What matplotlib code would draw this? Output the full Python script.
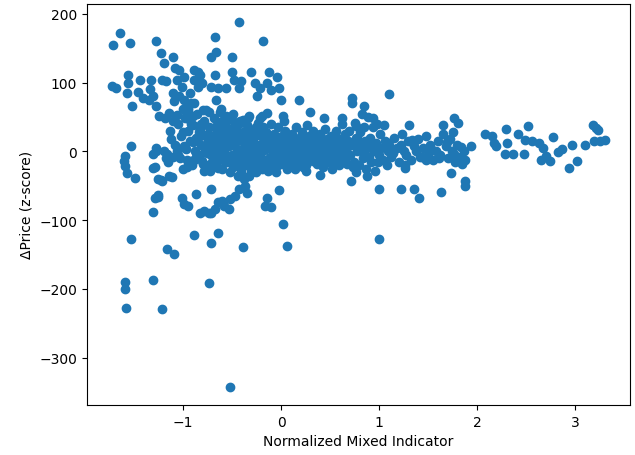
import matplotlib
matplotlib.use("Agg")
import matplotlib.pyplot as plt
import numpy as np

# Upper scattered points (x, y)
upper_x = [-1.72, -1.64, -1.54, -1.73, -1.69, -1.56, -1.56, -1.57, -1.52, -1.44, -1.46, -1.41,
           -1.28, -1.23, -1.20, -1.33, -1.34, -1.35, -1.31, -1.28, -1.22, -1.18, -1.25, -1.19,
           -1.10, -1.08, -1.04, -1.06, -0.99, -1.01, -1.10, -1.04, -1.09, -0.99, -1.14, -1.06,
           -0.97, -0.89, -0.85, -0.83, -0.89, -0.85, -0.93, -0.89, -0.95, -0.93, -0.81, -0.68,
           -0.66, -0.72, -0.68, -0.72, -0.64, -0.66, -0.77, -0.62, -0.56, -0.50, -0.43, -0.50,
           -0.48, -0.41, -0.43, -0.56, -0.50, -0.39, -0.31, -0.27, -0.22, -0.25, -0.14, -0.10,
           -0.18, -0.12, -0.04, -0.02, 0.00, -0.14, -0.22, -0.33, 0.02, 0.18, 0.30, 0.44,
           0.62, 0.72, 0.72, 0.85, 1.10, 0.77, 0.94, 1.31, 1.23, 1.34, 1.65, 1.77, 1.81, 1.76,
           -1.13, -1.10, -1.05, -0.98, -0.95, -1.00, -0.92]
upper_y = [155, 172, 158, 95, 92, 111, 99, 85, 66, 104, 87, 78,
           160, 143, 129, 104, 91, 75, 80, 66, 104, 102, 51, 49,
           138, 121, 118, 104, 109, 94, 85, 80, 73, 75, 56, 53,
           51, 119, 116, 111, 104, 94, 85, 70, 63, 46, 99, 167,
           145, 138, 111, 94, 92, 75, 61, 58, 92, 138, 188, 116,
           104, 102, 92, 51, 46, 46, 116, 99, 92, 80, 99, 90,
           160, 116, 109, 92, 75, 56, 49, 51, 51, 75, 58, 49,
           49, 78, 70, 66, 83, 37, 49, 39, 25, 17, 39, 49, 41, 29,
           30, 45, 40, 48, 60, 62, 70]

# Right tail points
right_x = [1.94, 2.08, 2.15, 2.17, 2.19, 2.30, 2.31, 2.29, 2.37, 2.42, 2.49, 2.52, 2.48,
           2.56, 2.63, 2.67, 2.65, 2.71, 2.75, 2.78, 2.83, 2.87, 2.94, 2.97, 3.02, 3.10,
           3.18, 3.22, 3.24, 3.20, 3.31, 3.26]
right_y = [8, 26, 22, 13, 8, 32, 13, -4, -4, 25, 17, 37, -4,
           15, 13, 5, -12, -7, -14, 21, -1, 3, -24, 10, -14, 9,
           39, 34, 31, 15, 17, 15]

# Lower scattered points
lower_x = [-1.53, -1.59, -1.60, -1.59, -1.57, -1.49, -1.53, -1.59, -1.59, -1.58, -1.31, -1.22,
           -1.16, -1.09, -1.31, -1.29, -1.26, -1.26, -1.22, -1.31, -1.31, -1.28, -1.20, -1.14,
           -1.01, -0.99, -0.95, -0.87, -0.83, -0.79, -0.74, -0.72, -0.68, -0.64, -0.60, -0.58,
           -0.53, -0.52, -0.47, -0.43, -0.37, -0.35, -0.72, -0.89, -0.72, -0.64, -0.74, -0.39,
           -0.52, -0.14, -0.16, -0.10, -0.02, 0.02, 0.06, 0.25, 0.40, 0.52, 0.71, 0.88,
           1.00, 1.00, 1.22, 1.36, 1.41, 1.63, 1.73, 1.88, 1.88, 1.27, 1.48,
           -1.28, -1.16, -1.29, -1.23, -1.11, -1.26]
lower_y = [8, -7, -14, -21, -31, -38, -127, -190, -200, -228, -187, -229,
           -142, -149, -88, -67, -64, -40, -43, -24, -4, 5, 0, -36,
           -68, -77, -79, -62, -89, -86, -89, -89, -84, -74, -72, -79,
           -83, -69, -65, -55, -50, -60, -55, -122, -133, -118, -192, -139,
           -342, -67, -79, -81, -56, -106, -138, -28, -34, -26, -43, -36,
           -55, -127, -55, -55, -68, -59, -32, -43, -50, -24, -12,
           1, -3, -23, -42, -37, -66]

# Dense central band
band_x = [-1.12, -1.08, -1.05, -1.02, -0.98, -0.96, -0.95, -0.93, -0.91, -0.90, -1.00, -1.10, -1.15, -1.18, -1.06,
          -0.88, -0.87, -0.85, -0.84, -0.82, -0.80, -0.79, -0.78, -0.76, -0.75, -0.74, -0.72, -0.71, -0.70, -0.86, -0.80, -0.77, -0.73, -0.89,
          -0.68, -0.67, -0.66, -0.64, -0.63, -0.62, -0.60, -0.59, -0.58, -0.56, -0.55, -0.54, -0.53, -0.52, -0.51, -0.50, -0.69, -0.61, -0.57, -0.65,
          -0.48, -0.47, -0.46, -0.45, -0.44, -0.43, -0.42, -0.41, -0.40, -0.39, -0.38, -0.37, -0.36, -0.35, -0.34, -0.33, -0.32, -0.31, -0.30, -0.49, -0.44, -0.38, -0.33, -0.30,
          -0.29, -0.28, -0.27, -0.26, -0.25, -0.24, -0.23, -0.22, -0.21, -0.20, -0.19, -0.18, -0.17, -0.16, -0.15, -0.14, -0.13, -0.12, -0.11, -0.10, -0.26, -0.20, -0.13,
          -0.09, -0.08, -0.07, -0.06, -0.05, -0.04, -0.03, -0.02, -0.01, 0.00, 0.01, 0.02, 0.03, 0.04, 0.05, 0.06, 0.07, 0.08, 0.09, 0.10, 0.03, -0.05, 0.07,
          0.11, 0.12, 0.13, 0.14, 0.15, 0.16, 0.17, 0.18, 0.19, 0.20, 0.21, 0.22, 0.23, 0.24, 0.25, 0.26, 0.27, 0.28, 0.29, 0.30, 0.14, 0.22,
          0.31, 0.32, 0.33, 0.34, 0.35, 0.36, 0.37, 0.38, 0.39, 0.40, 0.41, 0.42, 0.43, 0.44, 0.45, 0.46, 0.47, 0.48, 0.49, 0.50,
          0.51, 0.52, 0.53, 0.54, 0.55, 0.56, 0.57, 0.58, 0.59, 0.60, 0.61, 0.62, 0.63, 0.64, 0.65, 0.66, 0.67, 0.68, 0.69, 0.70,
          0.72, 0.74, 0.75, 0.76, 0.78, 0.80, 0.81, 0.82, 0.84, 0.85, 0.86, 0.87, 0.88, 0.89, 0.90, 0.77, 0.83,
          0.91, 0.92, 0.94, 0.95, 0.96, 0.97, 0.98, 1.00, 1.01, 1.02, 1.04, 1.05, 1.06, 1.08, 1.09, 1.10,
          1.12, 1.15, 1.18, 1.20, 1.22, 1.25, 1.28, 1.30, 1.33, 1.36, 1.38, 1.40, 1.42, 1.45, 1.48, 1.50,
          1.52, 1.55, 1.58, 1.60, 1.62, 1.65, 1.68, 1.70, 1.72, 1.75, 1.78, 1.80, 1.82, 1.85, 1.87, 1.88]
band_y = [18, 10, -5, 22, 5, -12, 30, 15, -20, 38, -25, -8, -15, -10, 0,
          0, 20, -8, 28, 10, -18, 45, 2, -25, 15, 35, -5, 22, -15, 55, 60, 8, -28, -12,
          5, -20, 25, 40, -8, 12, -25, 30, 0, 18, -15, 50, 8, -30, 25, -5, 48, 62, 42, -12,
          10, -18, 35, 0, 20, -10, 45, -25, 15, 28, -5, 5, -20, 38, 12, -12, 25, -28, 2, 55, -35, -40, -35, -30,
          18, -8, 30, 5, -18, 42, 10, -5, 22, -25, 0, 35, 12, -12, 28, -20, 5, 18, -8, 40, -30, 52, -28,
          10, -15, 25, 0, -22, 15, 35, -5, 8, -18, 22, 2, -10, 30, 12, -25, 5, -8, 18, -15, 45, -30, -20,
          25, 0, -10, 12, 35, -18, 5, 20, -5, 10, 28, -12, 2, 15, -20, 38, 8, -8, 22, 0, -25, -22,
          15, -12, 30, 5, -5, 20, -18, 10, 0, 25, -10, 12, -22, 5, 32, -5, 18, 0, -15, 10,
          22, -8, 5, 15, -15, 30, 0, 10, -20, 18, -5, 40, 8, -12, 25, 2, -18, 15, 30, -5,
          10, -15, 42, 20, 0, -20, 28, 8, -10, 35, 15, -25, 5, 50, -8, -30, 55,
          20, -15, 35, 0, -28, 12, 40, -5, 25, 5, -12, 38, 15, -20, 0, 10,
          -8, 20, 5, -15, 10, 0, -5, 15, -12, 8, 0, 18, -8, 5, 22, -5,
          10, -12, 0, 15, -5, 25, 8, -10, 18, 0, -15, 10, -8, -18, 0, -12]

# Core of the band (second layer)
core_x = [-1.03, -0.99, -0.94, -0.90, -0.86, -0.83, -0.81, -0.78, -0.75, -0.73,
          -0.70, -0.67, -0.65, -0.62, -0.60, -0.57, -0.55, -0.52, -0.50, -0.47,
          -0.45, -0.42, -0.40, -0.37, -0.35, -0.32, -0.30, -0.27, -0.25, -0.22,
          -0.20, -0.17, -0.15, -0.12, -0.10, -0.07, -0.05, -0.02, 0.00, 0.03,
          0.05, 0.08, 0.10, 0.13, 0.15, 0.18, 0.20, 0.23, 0.25, 0.28,
          0.30, 0.33, 0.35, 0.38, 0.40, 0.43, 0.45, 0.48, 0.50, 0.53,
          0.55, 0.58, 0.60, 0.63, 0.65, 0.68]
core_y = [-10, 8, -18, 14, -4, 22, -14, 6, -20, 12,
          0, 18, -10, 3, 24, -16, 9, -6, 16, -12,
          4, 20, -18, 7, -2, 14, -22, 10, -8, 26,
          -14, 2, 12, -20, 6, -4, 18, -12, 10, 0,
          -16, 8, 22, -6, 14, -10, 3, -18, 20, -2,
          12, -14, 6, 24, -8, 2, -16, 12, 0, 18,
          -10, 5, -4, 14, -12, 8]

# Core of the band (third layer)
core2_x = [-0.97, -0.92, -0.88, -0.84, -0.80, -0.76, -0.71, -0.66, -0.63, -0.58,
           -0.53, -0.49, -0.44, -0.41, -0.36, -0.31, -0.28, -0.23, -0.18, -0.14,
           -0.09, -0.04, 0.01, 0.06, 0.11, 0.16, 0.21, 0.26, 0.31, 0.36,
           0.41, 0.46, 0.52, 0.57, 0.62, 0.67, 0.73, 0.79, 0.85, 0.92,
           0.99, 1.07, 1.14, 1.21, 1.27, 1.35, 1.44, 1.53, 1.61, 1.69,
           1.77, 1.84]
core2_y = [3, -14, 16, -6, 24, -2, 10, -18, 20, -10,
           14, -22, 2, -14, 16, -4, 10, -16, 6, 22,
           -10, 0, 14, -20, 8, -2, 18, -12, 4, -8,
           16, -14, 2, 20, -6, 12, -22, 16, -4, 8,
           -16, 14, -2, 6, -20, 12, -8, 4, -10, 14,
           -4, 6]

# Left part of the band (fourth layer)
core3_x = [-1.00, -0.96, -0.92, -0.87, -0.83, -0.79, -0.75, -0.71, -0.68, -0.64,
           -0.60, -0.56, -0.52, -0.48, -0.45, -0.41, -0.37, -0.34, -0.30, -0.26,
           -0.22, -0.18, -0.90, -0.82, -0.74, -0.66, -0.58, -0.50, -0.42, -0.34,
           -0.26]
core3_y = [28, -22, 40, -8, 32, -28, 26, -16, 36, -24,
           44, -6, 32, -20, 26, -30, -14, 34, -22, 30,
           -12, 24, 52, 40, 58, 34, 46, 30, 42, 48,
           36]

x = np.concatenate([upper_x, band_x, core_x, core2_x, core3_x, lower_x, right_x])
y = np.concatenate([upper_y, band_y, core_y, core2_y, core3_y, lower_y, right_y])

fig = plt.figure(figsize=(6.35, 4.56), dpi=100)
ax = fig.add_axes([0.137, 0.110, 0.855, 0.879])
ax.scatter(x, y, color="#1f77b4")
ax.set_xlabel("Normalized Mixed Indicator")
ax.set_ylabel("ΔPrice (z-score)")
fig.savefig("out.png", dpi=100)
